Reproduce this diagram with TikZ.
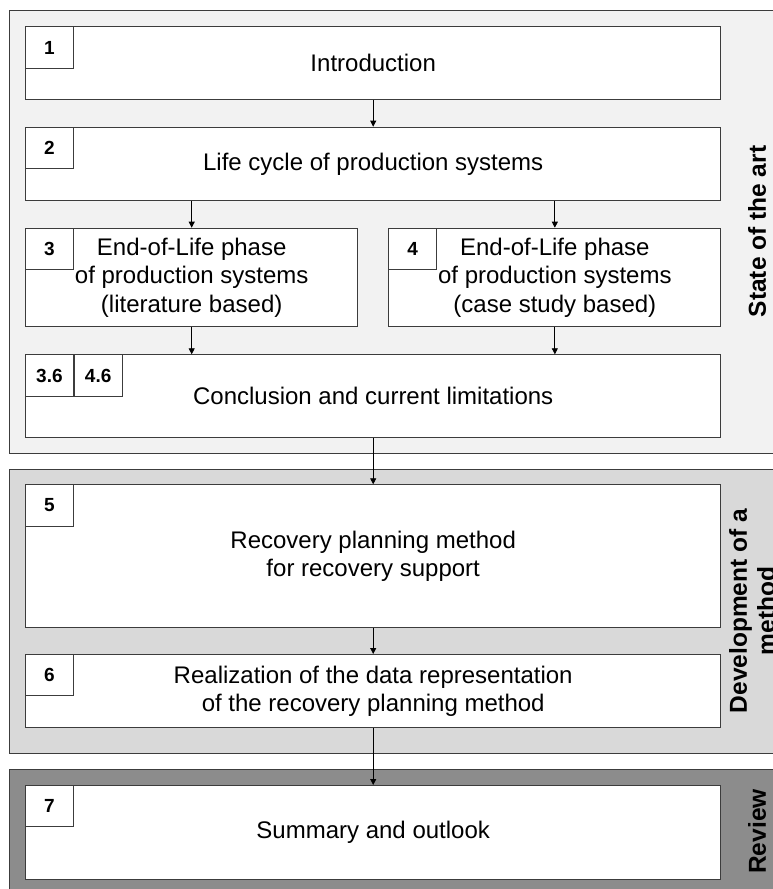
\documentclass[tikz,border=0pt]{standalone}
\usepackage{fontspec}
\setmainfont{Liberation Sans}
\usetikzlibrary{arrows.meta}

\definecolor{lineclr}{RGB}{60,60,60}
\definecolor{panelA}{RGB}{242,242,242}
\definecolor{panelB}{RGB}{217,217,217}
\definecolor{panelC}{RGB}{140,140,140}

\newcommand\bxfont{\fontsize{24}{28.5}\selectfont}
\newcommand\numfnt{\fontsize{19}{22}\selectfont\bfseries}
\newcommand\sidefnt{\fontsize{24.5}{28}\selectfont\bfseries}

\begin{document}
\begin{tikzpicture}[x=1pt,y=-1pt,
  panel/.style={draw=lineclr, line width=1pt, inner sep=0pt, anchor=north west},
  mainbox/.style={draw=lineclr, fill=white, line width=1.1pt, inner sep=0pt,
    anchor=north west, align=center, font=\bxfont},
  numbox/.style={draw=lineclr, fill=white, line width=1.1pt, inner sep=0pt,
    anchor=north west, minimum width=47.7pt, minimum height=41.3pt, font=\numfnt},
  flow/.style={-{Triangle[length=6pt,width=6pt]}, line width=0.8pt, black},
  sidelabel/.style={rotate=90, font=\sidefnt, align=center, inner sep=0pt}
]
\useasboundingbox (0,0) rectangle (772,889);

% phase panels
\node[panel, fill=panelA, minimum width=800pt, minimum height=442.7pt] (pstate) at (9.3,10) {};
\node[panel, fill=panelB, minimum width=800pt, minimum height=283.7pt] (pdev) at (9.3,469) {};
\node[panel, fill=panelC, minimum width=800pt, minimum height=126pt] (prev) at (9.3,768.7) {};

\node[sidelabel] (lstate) at (757,231.5) {State of the art};
\node[sidelabel] (ldev) at (752,611) {Development of a\\method};
\node[sidelabel] (lrev) at (757,831.5) {Review};

% chapter boxes
\node[mainbox, minimum width=695.3pt, minimum height=72.7pt] (intro) at (25,26.3) {Introduction};
\node[mainbox, minimum width=695.3pt, minimum height=73.3pt] (life) at (25,126.7) {Life cycle of production systems};
\node[mainbox, minimum width=332.3pt, minimum height=98.3pt] (eolA) at (25,227.7)
  {End-of-Life phase\\of production systems\\(literature based)};
\node[mainbox, minimum width=332pt, minimum height=98.3pt] (eolB) at (388.3,227.7)
  {End-of-Life phase\\of production systems\\(case study based)};
\node[mainbox, minimum width=695.3pt, minimum height=82.4pt] (concl) at (25,354.3) {Conclusion and current limitations};
\node[mainbox, minimum width=695.3pt, minimum height=142.4pt] (rpm) at (25,484.3)
  {Recovery planning method\\for recovery support};
\node[mainbox, minimum width=695.3pt, minimum height=73pt] (real) at (25,654)
  {Realization of the data representation\\of the recovery planning method};
\node[mainbox, minimum width=695.3pt, minimum height=94.3pt] (summ) at (25,785) {Summary and outlook};

% chapter numbers
\node[numbox] (n1) at (intro.north west) {1};
\node[numbox] (n2) at (life.north west) {2};
\node[numbox] (n3) at (eolA.north west) {3};
\node[numbox] (n4) at (eolB.north west) {4};
\node[numbox] (n36) at (concl.north west) {3.6};
\node[numbox] (n46) at (n36.north east) {4.6};
\node[numbox] (n5) at (rpm.north west) {5};
\node[numbox] (n6) at (real.north west) {6};
\node[numbox] (n7) at (summ.north west) {7};

% reading order
\draw[flow] (intro.south) -- (life.north);
\draw[flow] (eolA.north |- life.south) -- (eolA.north);
\draw[flow] (eolB.north |- life.south) -- (eolB.north);
\draw[flow] (eolA.south) -- (eolA.south |- concl.north);
\draw[flow] (eolB.south) -- (eolB.south |- concl.north);
\draw[flow] (concl.south) -- (rpm.north);
\draw[flow] (rpm.south) -- (real.north);
\draw[flow] (real.south) -- (summ.north);
\end{tikzpicture}
\end{document}
